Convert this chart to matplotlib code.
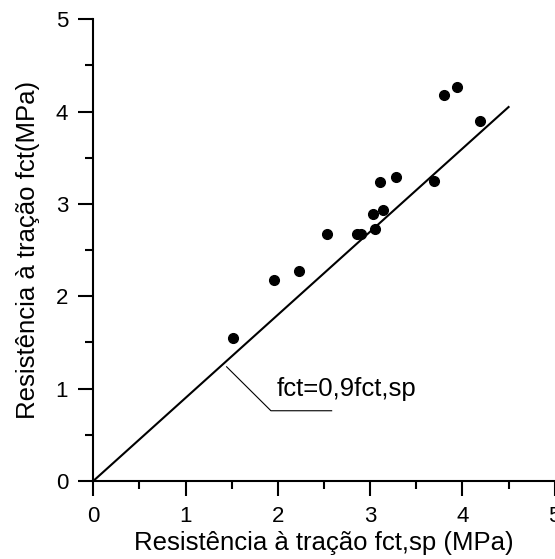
import matplotlib
matplotlib.use("Agg")
import matplotlib.pyplot as plt
import numpy as np

plt.rcParams['font.family'] = ['Liberation Sans', 'DejaVu Sans']

# Data
fct_sp = [1.51, 1.96, 2.23, 2.53, 2.86, 2.90, 3.05, 3.03, 3.14, 3.11, 3.28, 3.69, 3.80, 3.94, 4.19]
fct = [1.55, 2.18, 2.27, 2.67, 2.68, 2.67, 2.73, 2.89, 2.93, 3.24, 3.29, 3.25, 4.18, 4.27, 3.90]

slope = 0.9
line_x = [0.0, 4.5]
ticks = [0, 1, 2, 3, 4, 5]

xlabel = "Resistência à tração fct,sp (MPa)"
ylabel = "Resistência à tração fct(MPa)"
annot_text = "fct=0,9fct,sp"

fig = plt.figure(figsize=(5.55, 5.59), dpi=100)
ax = fig.add_axes([0.168, 0.1395, 0.8315, 0.826])

lx = np.array(line_x)
ax.plot(lx, slope * lx, color='black', lw=1.5, clip_on=False)
ax.plot(fct_sp, fct, 'o', color='black', ms=7, clip_on=False)

# leader line for the equation label
ax.plot([1.445, 1.925, 2.583], [1.237, 0.761, 0.761], color='black', lw=0.8)
ax.text(1.99, 1.0, annot_text, fontsize=18.5, va='center', ha='left')

ax.set_xlim(0, 5)
ax.set_ylim(0, 5)
ax.set_xticks(ticks)
ax.set_yticks(ticks)
ax.set_xticks(np.arange(0.5, 5, 1), minor=True)
ax.set_yticks(np.arange(0.5, 5, 1), minor=True)

for s in ['top', 'right']:
    ax.spines[s].set_visible(False)
for s in ['left', 'bottom']:
    ax.spines[s].set_linewidth(1.5)

ax.tick_params(which='major', direction='out', length=11, width=1.5, labelsize=16, pad=7)
ax.tick_params(which='minor', direction='out', length=6, width=1.5)

ax.set_xlabel(xlabel, fontsize=18.5, labelpad=3)
ax.set_ylabel(ylabel, fontsize=18.5, labelpad=11)

fig.savefig("out.png", dpi=100)
